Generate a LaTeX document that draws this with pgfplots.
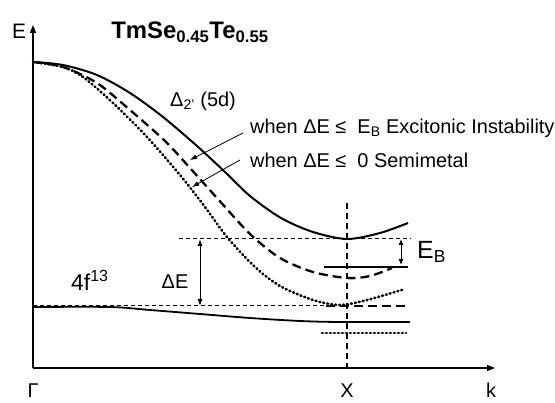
\documentclass[border=0pt]{standalone}
\usepackage{pgfplots}
\pgfplotsset{compat=1.18}
\usepackage{fontspec}
\setmainfont{Liberation Sans}
\usetikzlibrary{arrows.meta}
\newcommand{\fs}[1]{\fontsize{#1}{#1}\selectfont}
\begin{document}
\begin{tikzpicture}
\begin{axis}[
 scale only axis, width=462bp, height=343bp,
 xmin=33, xmax=495, ymin=35, ymax=378,
 axis lines=left,
 axis line style={line width=1.3bp, -{Triangle[length=8bp,width=6bp]}},
 xtick={33,347,491}, xticklabels={Γ,X,k},
 ytick=\empty,
 major tick length=0pt,
 xticklabel style={anchor=base, yshift=-29bp, font=\fs{20}, inner sep=0pt},
 clip=false,
]
\path (axis cs:0,0) rectangle (axis cs:555,403);
% conduction band, solid
\addplot[black, line width=2bp, smooth] coordinates {
(33,341) (63,338) (97,328) (130,310) (163,286) (197,257) (225,231) (250,207) (281,185) (313,171) (347,164) (380,170) (408,180)};
% dashed band
\addplot[black, line width=2.3bp, smooth, dash pattern=on 9bp off 5bp] coordinates {
(33,341) (63,336) (97,320) (130,293) (165,262) (190,235) (217,205) (250,169) (280,145) (313,131) (347,125) (370,127) (392,135)};
% dotted band
\addplot[black, line width=2.7bp, smooth, line cap=round, dash pattern=on 0.8bp off 3.2bp] coordinates {
(33,341) (63,336) (83,326) (113,300) (147,266) (180,228) (205,196) (227,166) (255,136) (280,117) (313,103) (340,98) (367,103) (405,114)};
% 4f band
\addplot[black, line width=1.8bp, smooth] coordinates {
(33,96) (110,96) (150,93) (200,89) (250,85) (300,82) (340,81) (410,81)};
% reference dashed lines
\addplot[black, line width=1bp, dash pattern=on 4bp off 3bp] coordinates {(179,164) (411,164)};
\addplot[black, line width=1bp, dash pattern=on 4bp off 3bp] coordinates {(33,97) (326,97)};
\addplot[black, line width=1.1bp, dash pattern=on 6bp off 4bp] coordinates {(347,200) (347,35)};
% short levels near X
\addplot[black, line width=2.5bp] coordinates {(324,136) (408,136)};
\addplot[black, line width=2.3bp, dash pattern=on 9bp off 5bp] coordinates {(326,97) (406,97)};
\addplot[black, line width=2.7bp, line cap=round, dash pattern=on 0.8bp off 3.2bp] coordinates {(322,70) (406,70)};
% arrows
\addplot[black, line width=1bp, {Latex[length=7bp,width=5bp]}-{Latex[length=7bp,width=5bp]}] coordinates {(200,164) (200,97)};
\addplot[black, line width=1bp, {Latex[length=6bp,width=5bp]}-{Latex[length=6bp,width=5bp]}] coordinates {(401,164) (401,138)};
\addplot[black, line width=0.8bp, -{Latex[length=7bp,width=5bp]}] coordinates {(243,270) (190,243)};
\addplot[black, line width=0.8bp, -{Latex[length=7bp,width=5bp]}] coordinates {(240,243) (192,216)};
% texts
\node[font=\bfseries\fs{24}, inner sep=0pt] at (axis cs:190,371) {TmSe\textsubscript{0.45}Te\textsubscript{0.55}};
\node[font=\fs{21}, inner sep=0pt] at (axis cs:19,372) {E};
\node[font=\fs{20}, inner sep=0pt, anchor=west] at (axis cs:170,302) {Δ\textsubscript{2'} (5d)};
\node[font=\fs{20}, inner sep=0pt, anchor=west] at (axis cs:250,275) {when ΔE ≤\ \ E\textsubscript{B} Excitonic Instability};
\node[font=\fs{20}, inner sep=0pt, anchor=west] at (axis cs:250,243) {when ΔE ≤\ \ 0 Semimetal};
\node[font=\fs{20}, inner sep=0pt] at (axis cs:175,121) {ΔE};
\node[font=\fs{23}, inner sep=0pt, anchor=west] at (axis cs:71,123) {4f\textsuperscript{13}};
\node[font=\fs{25}, inner sep=0pt, anchor=west] at (axis cs:417,151) {E\textsubscript{B}};
\end{axis}
\end{tikzpicture}
\end{document}
